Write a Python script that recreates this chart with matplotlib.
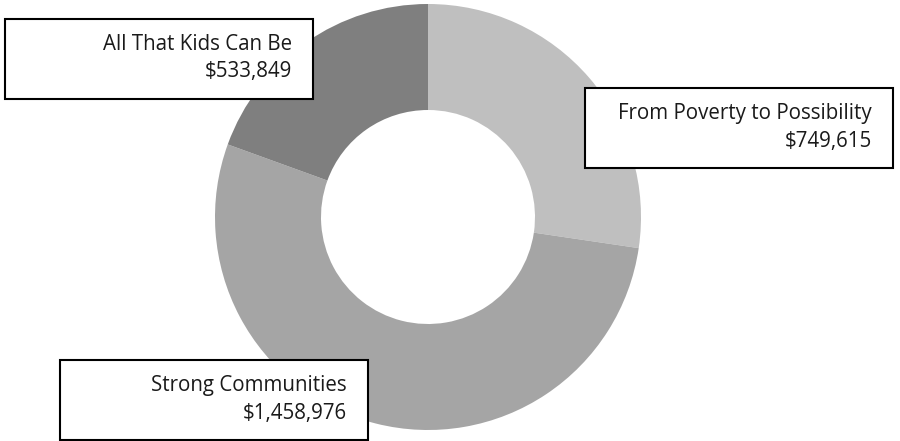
import matplotlib
matplotlib.use("Agg")
import matplotlib.pyplot as plt
from matplotlib.patches import Rectangle

categories = ["From Poverty to Possibility", "Strong Communities", "All That Kids Can Be"]
values = [749615, 1458976, 533849]
colors = ["#bfbfbf", "#a5a5a5", "#7f7f7f"]
# label box top-left corners in pixel coords (x, y from top)
box_pos = [(585, 88), (60, 360), (5, 19)]

W, H = 900, 441
fig = plt.figure(figsize=(9, 4.41), dpi=100)
ax = fig.add_axes([0, 0, 1, 1])
ax.set_xlim(0, W)
ax.set_ylim(0, H)
ax.set_aspect("equal")
ax.axis("off")

ax.pie(values, colors=colors, startangle=90, counterclock=False,
       center=(428, H - 217), radius=213,
       wedgeprops=dict(width=106, edgecolor="none"))
ax.set_xlim(0, W)
ax.set_ylim(0, H)

bw, bh = 308, 80
for cat, val, (bx, by) in zip(categories, values, box_pos):
    ax.add_patch(Rectangle((bx, H - by - bh), bw, bh, facecolor="white",
                           edgecolor="black", linewidth=1.5, zorder=5))
    ax.text(bx + bw - 21, H - (by + 25), cat, ha="right", va="center",
            fontsize=14.8, family="Open Sans", color="#1a1a1a", zorder=6)
    ax.text(bx + bw - 21, H - (by + 53), f"${val:,}", ha="right", va="center",
            fontsize=14.8, family="Open Sans", color="#1a1a1a", zorder=6)

fig.savefig("out.png", dpi=100)
